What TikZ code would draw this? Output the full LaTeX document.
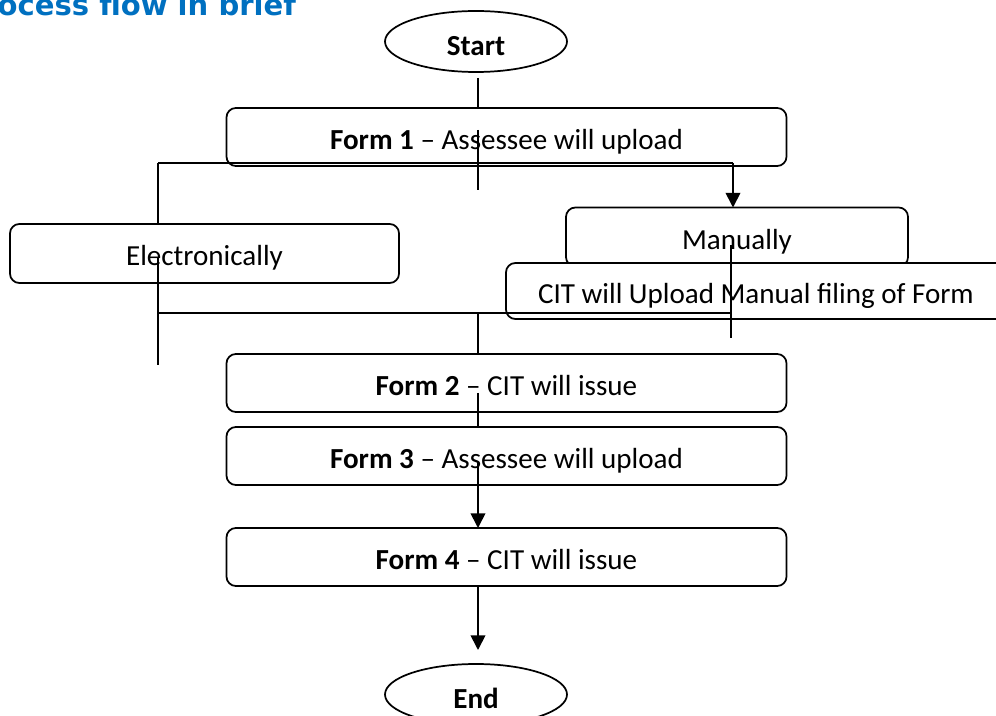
\documentclass[tikz,border=0pt]{standalone}
\usepackage{fontspec}
\setmainfont{Carlito}
\newfontfamily\titlefont{DejaVu Sans}
\usepackage{xcolor}
\usetikzlibrary{positioning,shapes.geometric,arrows.meta}
\definecolor{titleblue}{RGB}{0,112,192}

\begin{document}
\begin{tikzpicture}[x=0.75pt, y=-0.75pt,
    every node/.style={font=\fontsize{21.8}{26}\selectfont, inner sep=0pt, outer sep=0pt},
    stepbox/.style={draw, line width=1.3pt, rounded corners=7pt, fill=white, text height=23pt, text depth=4.5pt},
    term/.style={draw, ellipse, line width=1.3pt, minimum width=136.5pt, minimum height=45.75pt, text height=26pt, text depth=4.5pt},
    link/.style={line width=1.3pt},
    arr/.style={line width=1.3pt, -{Triangle[width=11pt,length=11pt]}}]
      \useasboundingbox (0,0) rectangle (996,716);
      %\draw [dotted] (0,0) grid [step=50] (996,716);
      \node [anchor=base east, text=titleblue, font=\titlefont\bfseries\fontsize{21.8}{26}\selectfont]
                          (title) at (296, 16) {Process flow in brief};
      \node [term]        (start) at (476, 41.5) {\textbf{Start}};
      \node [stepbox, minimum width=420pt, minimum height=43.5pt]
                          (f1)    at (506.5, 137) {\textbf{Form 1} -- Assessee will upload};
      \node [stepbox, minimum width=291.75pt, minimum height=44.25pt]
                          (el)    at (204.5, 253.5) {Electronically};
      \node [stepbox, minimum width=256.5pt, minimum height=44.25pt]
                          (man)   at (737, 237) {Manually};
      \node [stepbox, minimum width=375pt, minimum height=42pt]
                          (cit)   at (756, 291) {CIT will Upload Manual filing of Form};
      \node [stepbox, minimum width=420pt, minimum height=43.5pt]
                          (f2)    at (506.5, 383) {\textbf{Form 2} -- CIT will issue};
      \node [stepbox, minimum width=420pt, minimum height=43.5pt]
                          (f3)    at (506.5, 456) {\textbf{Form 3} -- Assessee will upload};
      \node [stepbox, minimum width=420pt, minimum height=43.5pt]
                          (f4)    at (506.5, 557) {\textbf{Form 4} -- CIT will issue};
      \node [term]        (end)   at (476, 694.5) {\textbf{End}};
      \coordinate (s0)  at (478, 78);
      \coordinate (f1a) at (478, 130);
      \coordinate (f1b) at (478, 190);
      \coordinate (jl)  at (158, 163);
      \coordinate (jr)  at (733, 163);
      \coordinate (ela) at (158, 257);
      \coordinate (elb) at (158, 365);
      \coordinate (ml)  at (158, 313);
      \coordinate (mr)  at (731, 313);
      \coordinate (mid) at (478, 313);
      \coordinate (mna) at (731, 245);
      \coordinate (mnb) at (731, 338);
      \coordinate (f2a) at (478, 393);
      \coordinate (f3a) at (478, 463);
      \coordinate (e0)  at (478, 650);
      \draw [link] (s0) -- (s0 |- f1.north);
      \draw [link] (f1a) -- (f1b);
      \draw [link] (jl) -- (jr);
      \draw [link] (jl) -- (jl |- el.north);
      \draw [arr]  (jr) -- (jr |- man.north);
      \draw [link] (ela) -- (elb);
      \draw [link] (ml) -- (mr);
      \draw [link] (mna) -- (mnb);
      \draw [link] (mid) -- (mid |- f2.north);
      \draw [link] (f2a) -- (f2a |- f3.north);
      \draw [arr]  (f3a) -- (f3a |- f4.north);
      \draw [arr]  (e0 |- f4.south) -- (e0);
\end{tikzpicture}
\end{document}
